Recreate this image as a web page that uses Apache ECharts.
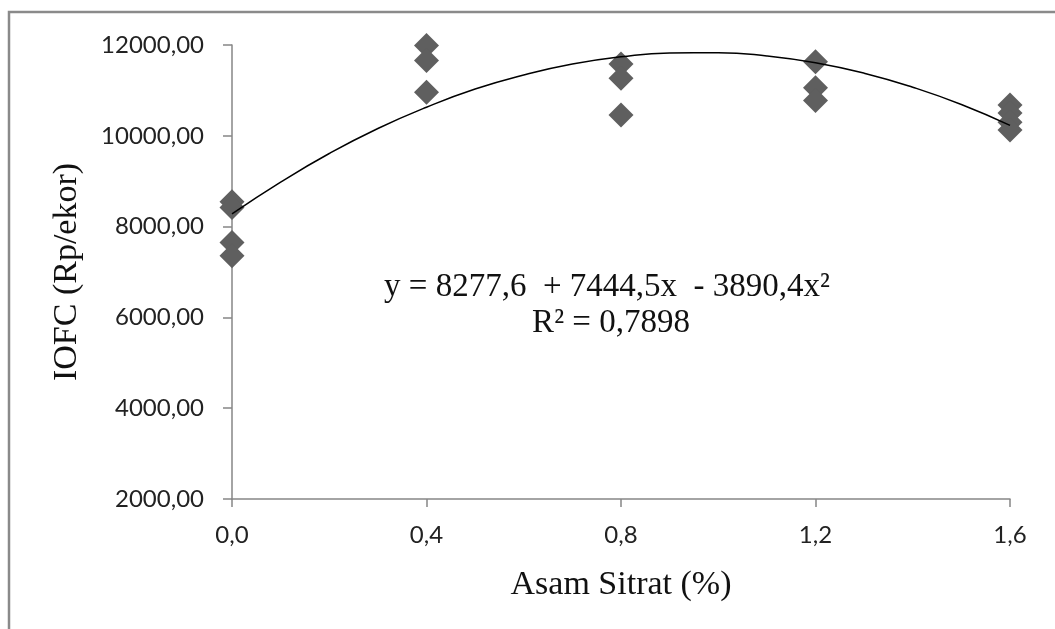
<!DOCTYPE html>
<html>
<head>
<meta charset="utf-8">
<script src="https://cdn.jsdelivr.net/npm/echarts@6.0.0/dist/echarts.min.js"></script>
<style>
  html, body { margin: 0; padding: 0; background: #fff; }
  #chart { width: 1055px; height: 629px; }
</style>
</head>
<body>
<div id="chart"></div>
<script>
// doses of citric acid (%)
var dose = [0, 0.4, 0.8, 1.2, 1.6];
// IOFC per replicate
var iofc_00 = [8550, 8420, 7650, 7360];
var iofc_04 = [11990, 11660, 10960];
var iofc_08 = [11580, 11270, 10460];
var iofc_12 = [11630, 11060, 10780];
var iofc_16 = [10680, 10500, 10300, 10130];

// trendline
var trendX = [0, 0.1, 0.2, 0.3, 0.4, 0.5, 0.6, 0.7, 0.8, 0.9, 1.0, 1.1, 1.2, 1.3, 1.4, 1.5, 1.6];
var trendY = [8280, 8980, 9610, 10160, 10630, 11030, 11340, 11580, 11740, 11826, 11832, 11760, 11610, 11380, 11070, 10690, 10230];

var xTickLabels = ['0,0', '0,4', '0,8', '1,2', '1,6'];
var yTickLabels = ['2000,00', '4000,00', '6000,00', '8000,00', '10000,00', '12000,00'];

var eqLine1 = 'y = 8277,6  + 7444,5x  - 3890,4x²';
var eqLine2 = 'R² = 0,7898';

var groups = [iofc_00, iofc_04, iofc_08, iofc_12, iofc_16];
var points = [];
groups.forEach(function (vals, i) {
    vals.forEach(function (v) { points.push([dose[i], v]); });
});
var trend = trendX.map(function (x, i) { return [x, trendY[i]]; });

var myChart = echarts.init(document.getElementById('chart'));
var axisGray = '#868686';
var option = {
    animation: false,
    backgroundColor: '#fff',
    grid: { left: 232, right: 45, top: 45, bottom: 130 },
    xAxis: {
        type: 'value',
        min: 0, max: 1.6, interval: 0.4,
        name: 'Asam Sitrat (%)',
        nameLocation: 'middle',
        nameGap: 69,
        nameTextStyle: { fontFamily: 'Liberation Serif', fontSize: 34, color: '#111' },
        axisLine: { lineStyle: { color: axisGray, width: 1.5 } },
        axisTick: { length: 8, lineStyle: { color: axisGray, width: 1.5 } },
        splitLine: { show: false },
        axisLabel: {
            margin: 24,
            fontFamily: 'Lato', fontSize: 24, color: '#222',
            formatter: function (v) { return xTickLabels[Math.round(v / 0.4)]; }
        }
    },
    yAxis: {
        type: 'value',
        min: 2000, max: 12000, interval: 2000,
        name: 'IOFC (Rp/ekor)',
        nameLocation: 'middle',
        nameGap: 148,
        nameTextStyle: { fontFamily: 'Liberation Serif', fontSize: 34, color: '#111' },
        axisLine: { show: true, lineStyle: { color: axisGray, width: 1.5 } },
        axisTick: { show: true, length: 9, lineStyle: { color: axisGray, width: 1.5 } },
        splitLine: { show: false },
        axisLabel: {
            margin: 28,
            fontFamily: 'Lato', fontSize: 24, color: '#222',
            formatter: function (v) { return yTickLabels[Math.round((v - 2000) / 2000)]; }
        }
    },
    graphic: [
        {
            type: 'rect',
            shape: { x: 9, y: 12, width: 1200, height: 800 },
            style: { fill: null, stroke: '#8a8a8a', lineWidth: 2.5 },
            silent: true
        },
        {
            type: 'text', x: 607, y: 287,
            style: { text: eqLine1, font: '33px "Liberation Serif"', fill: '#111', align: 'center', verticalAlign: 'middle' }
        },
        {
            type: 'text', x: 611, y: 323,
            style: { text: eqLine2, font: '33px "Liberation Serif"', fill: '#111', align: 'center', verticalAlign: 'middle' }
        }
    ],
    series: [
        {
            name: 'IOFC',
            type: 'scatter',
            symbol: 'diamond',
            symbolSize: 25,
            itemStyle: { color: '#5f5f5f', opacity: 1 },
            data: points,
            z: 2
        },
        {
            name: 'Trend',
            type: 'line',
            smooth: true,
            showSymbol: false,
            lineStyle: { color: '#000', width: 1.5 },
            data: trend,
            z: 3
        }
    ]
};
myChart.setOption(option);
window.addEventListener('resize', myChart.resize);
</script>
</body>
</html>
